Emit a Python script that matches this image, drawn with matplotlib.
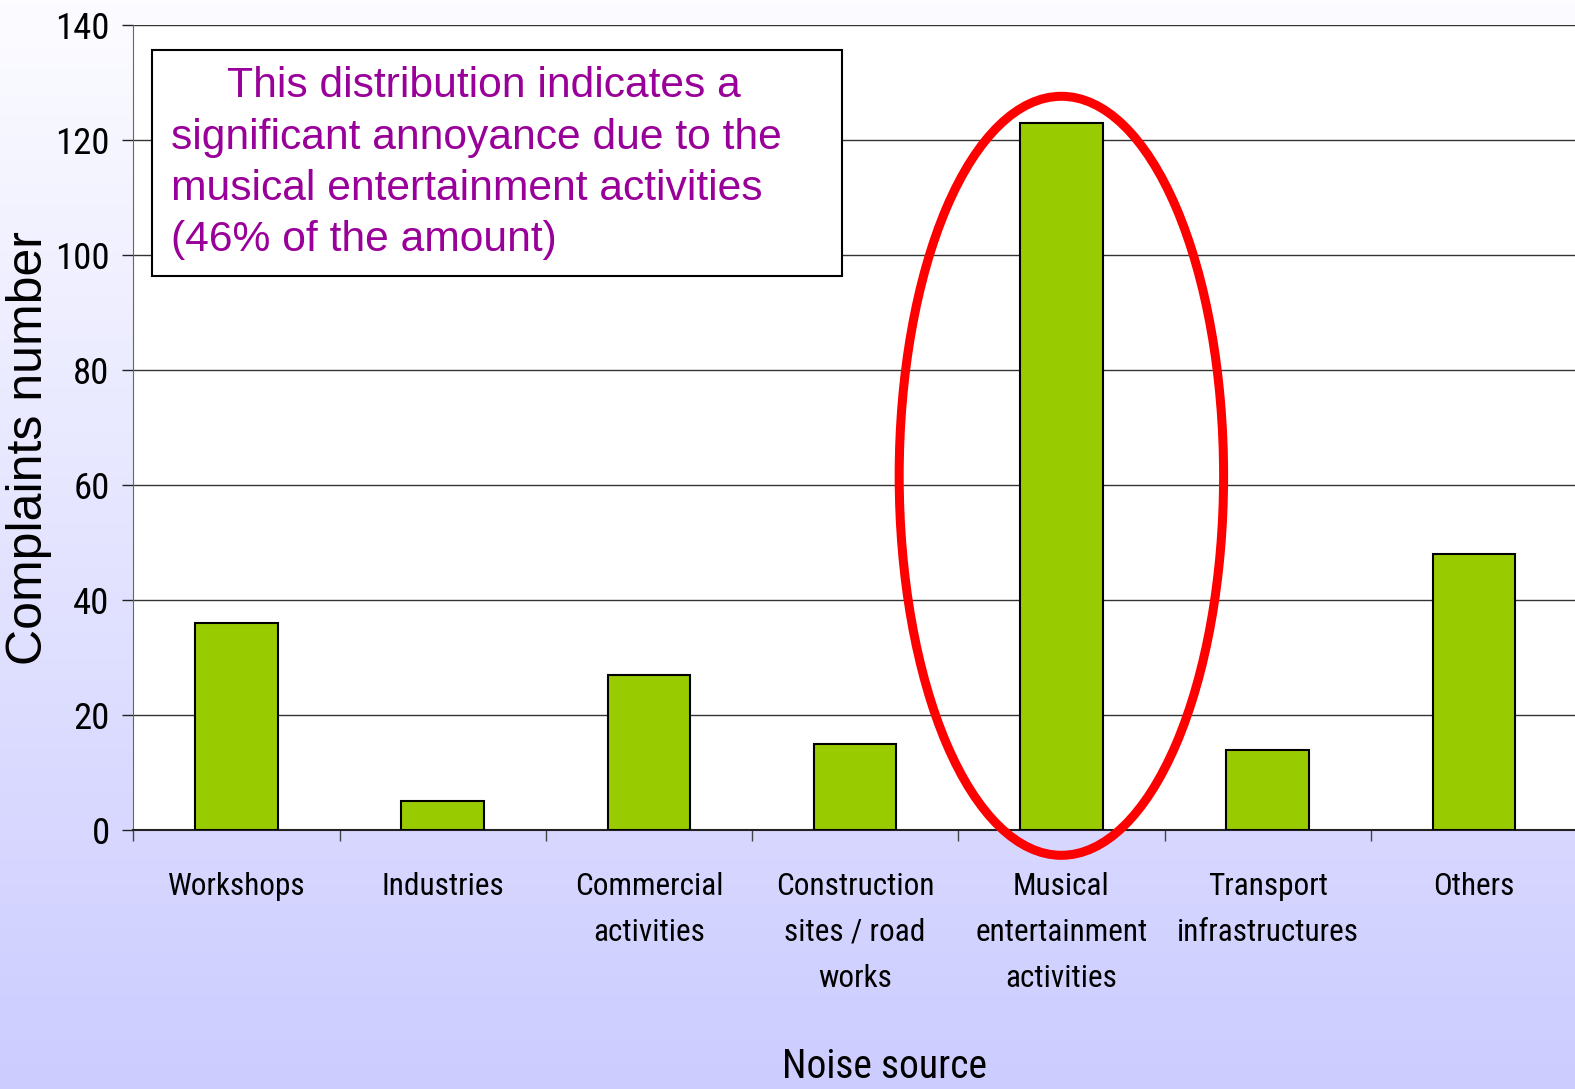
import numpy as np
import matplotlib
matplotlib.use("Agg")
import matplotlib.pyplot as plt
from matplotlib import font_manager as fm
from matplotlib.patches import Ellipse, Rectangle

# complaints by noise source
categories = ["Workshops", "Industries", "Commercial\nactivities",
              "Construction\nsites / road\nworks", "Musical\nentertainment\nactivities",
              "Transport\ninfrastructures", "Others"]
complaints = [36, 5, 27, 15, 123, 14, 48]
y_ticks = [0, 20, 40, 60, 80, 100, 120, 140]
note_lines = ["This distribution indicates a",
              "significant annoyance due to the",
              "musical entertainment activities",
              "(46% of the amount)"]
highlight = 4


def _weight(f):
    w = f.weight
    if isinstance(w, str):
        w = fm.weight_dict.get(w, 400)
    return w


def narrow_font():
    """Find a condensed sans face for the axis text, if one is installed."""
    fonts = [f for f in fm.fontManager.ttflist
             if f.style == "normal" and _weight(f) == 400]
    for name in ["Liberation Sans Narrow", "Arial Narrow", "Roboto Condensed",
                 "Open Sans Condensed", "Noto Sans Condensed"]:
        for f in fonts:
            if f.name == name:
                return fm.FontProperties(fname=f.fname)
    for fam in ["Noto Sans", "Roboto", "Open Sans", "DejaVu Sans"]:
        for stretch in ["condensed", "semi-condensed"]:
            for f in fonts:
                if f.name == fam and f.stretch == stretch:
                    return fm.FontProperties(fname=f.fname)
    for f in fonts:
        n = f.name.lower()
        if ("narrow" in n or "condensed" in n) and "mono" not in n and "serif" not in n:
            return fm.FontProperties(fname=f.fname)
    return fm.FontProperties(family="DejaVu Sans", stretch="condensed")


W, H = 1575, 1089
sans = ["Liberation Sans", "DejaVu Sans"]
narrow = narrow_font()

fig = plt.figure(figsize=(W / 100, H / 100), dpi=100)

# soft white-to-lavender backdrop
bg = fig.add_axes([0, 0, 1, 1], zorder=-10)
grad = np.linspace(0, 1, 256)[:, None]
top = np.array([252, 252, 255]) / 255
bottom = np.array([204, 204, 255]) / 255
img = top + (bottom - top) * grad[..., None]
bg.imshow(img, aspect="auto", extent=[0, 1, 0, 1])
bg.axis("off")

ax_l, ax_r, ax_t, ax_b = 133.3, 1577.0, 25.0, 830.0
ax = fig.add_axes([ax_l / W, 1 - ax_b / H, (ax_r - ax_l) / W, (ax_b - ax_t) / H])
ax.set_facecolor("white")
x = np.arange(len(categories))
ax.bar(x, complaints, width=0.4, color="#99cc00", edgecolor="black", linewidth=1.5, zorder=3)

ax.set_xlim(-0.5, len(categories) - 0.5)
ax.set_ylim(0, 140)
ax.set_yticks(y_ticks)
ax.set_yticklabels([str(v) for v in y_ticks], fontproperties=narrow, fontsize=26.5)
ax.yaxis.grid(True, color="#333333", linewidth=1.0, zorder=0)

# category labels sit between the boundary ticks
ax.set_xticks(np.arange(len(categories) + 1) - 0.5)
ax.set_xticklabels([])
ax.set_xticks(x, minor=True)
ax.set_xticklabels(categories, minor=True, fontproperties=narrow, fontsize=22.5,
                   linespacing=1.74, va="top")
ax.tick_params(axis="x", which="minor", length=0, pad=30)
ax.tick_params(axis="x", which="major", length=8, width=1, color="#444444", direction="out")
ax.tick_params(axis="y", length=8, width=1, color="#222222", pad=9)

for side in ["top", "right"]:
    ax.spines[side].set_visible(False)
ax.spines["left"].set_color("#666666")
ax.spines["bottom"].set_color("#222222")
ax.spines["bottom"].set_linewidth(1.5)

ax.set_xlabel("Noise source", fontproperties=narrow, fontsize=28.5)
ax.xaxis.label.set_va("center")
ax.xaxis.set_label_coords((885 - ax_l) / (ax_r - ax_l), -(1067 - ax_b) / (ax_b - ax_t))

fig.text(29 / W, 1 - 448 / H, "Complaints number", rotation=90,
         ha="center", va="center", family=sans, fontsize=36)

# red ring around the dominant source
ring = Ellipse((highlight, 61.6), width=1.573, height=132, fill=False,
               edgecolor="#ff0000", linewidth=6.5, zorder=5, clip_on=False)
ax.add_patch(ring)

# annotation box
fig.patches.append(Rectangle((151.7 / W, 1 - 276 / H), (841.7 - 151.7) / W,
                             (276 - 50) / H, transform=fig.transFigure,
                             facecolor="white", edgecolor="black", linewidth=1.5, zorder=4))
line_y = [86.4, 137.6, 188.8, 240]
for i, (txt, yy) in enumerate(zip(note_lines, line_y)):
    if i == 0:
        fig.text(484 / W, 1 - yy / H, txt, ha="center", va="center",
                 family=sans, fontsize=30.7, color="#990099", zorder=6)
    else:
        fig.text(170.8 / W, 1 - yy / H, txt, ha="left", va="center",
                 family=sans, fontsize=30.7, color="#990099", zorder=6)

fig.savefig("out.png", dpi=100)
